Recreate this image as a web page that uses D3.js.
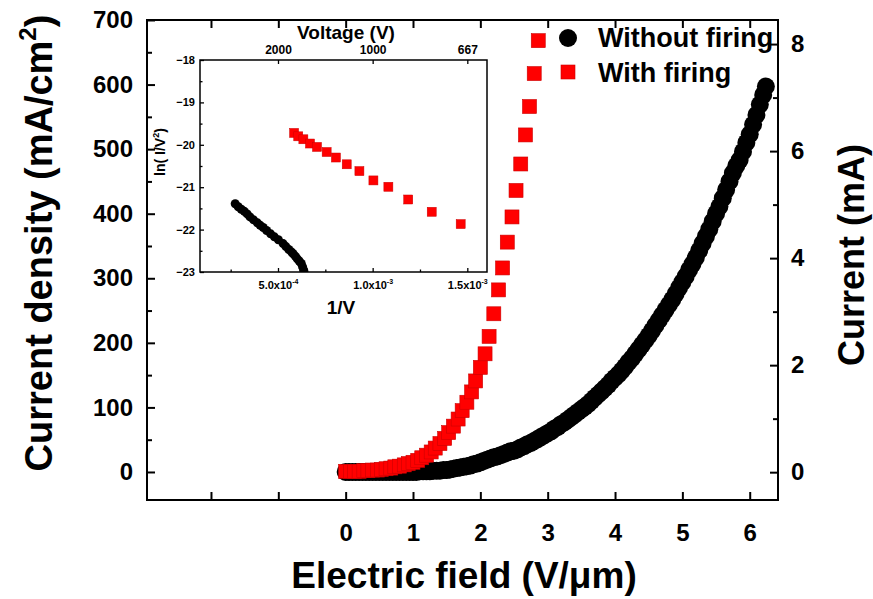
<!DOCTYPE html>
<html>
<head>
<meta charset="utf-8">
<script src="https://cdn.jsdelivr.net/npm/d3@7"></script>
<style>
body { margin: 0; background: #fff; }
text { font-family: "Liberation Sans", Arial, sans-serif; font-weight: bold; fill: #000; }
</style>
</head>
<body>
<script>
// main panel: without firing (black circles)
var blackField = [0.00,0.05,0.10,0.15,0.20,0.25,0.30,0.35,0.40,0.45,0.50,0.55,0.60,0.65,0.70,0.75,0.80,0.85,0.90,0.95,
  1.00,1.05,1.10,1.15,1.20,1.25,1.30,1.35,1.40,1.45,1.50,1.55,1.60,1.65,1.70,1.75,1.80,1.85,1.90,1.95,
  2.00,2.05,2.10,2.15,2.20,2.25,2.30,2.35,2.40,2.45,2.50,2.55,2.60,2.65,2.70,2.75,2.80,2.85,2.90,2.95,
  3.00,3.05,3.10,3.15,3.20,3.25,3.30,3.35,3.40,3.45,3.50,3.55,3.60,3.65,3.70,3.75,3.80,3.85,3.90,3.95,
  4.00,4.05,4.10,4.15,4.20,4.25,4.30,4.35,4.40,4.45,4.50,4.55,4.60,4.65,4.70,4.75,4.80,4.85,4.90,4.95,
  5.00,5.05,5.10,5.15,5.20,5.25,5.30,5.35,5.40,5.45,5.50,5.55,5.60,5.65,5.70,5.75,5.80,5.85,5.90,5.95,
  6.00,6.05,6.10,6.15,6.20,6.24];
var blackJ = [0,0,0,0,0,0,0,0,0,0,0,0,0,0,0,0,0,0,0,0,
  0,0,1,1,1,1,2,2,2,3,3,4,5,6,7,8,9,10,12,13,
  15,17,19,21,23,24,26,28,30,32,33,35,38,40,43,45,48,51,54,57,
  60,63,67,70,74,77,81,85,89,93,97,101,105,110,115,120,125,130,135,141,
  146,151,157,163,170,176,183,190,197,204,211,219,227,235,243,251,259,267,276,285,
  294,303,313,322,332,343,354,365,376,388,400,411,424,437,450,463,474,483,496,510,
  523,538,553,569,584,597];

// main panel: with firing (red squares)
var redField = [0.00,0.07,0.13,0.20,0.27,0.33,0.40,0.47,0.53,0.60,0.67,0.73,0.80,0.87,0.93,
  1.00,1.07,1.13,1.20,1.27,1.33,1.40,1.47,1.53,1.60,1.67,1.73,1.80,1.87,1.93,
  2.00,2.07,2.13,2.20,2.27,2.33,2.40,2.47,2.53,2.60,2.67,2.73,2.80,2.86];
var redJ = [1,1,1,1,2,2,3,3,4,5,6,8,9,11,13,
  15,18,22,26,31,37,44,52,61,71,82,95,108,124,141,
  162,183,210,245,282,316,356,395,436,477,522,566,617,668];

// inset: ln(I/V^2) against 1/V (x in units of 1e-4)
var insetBlackX = [2.74,2.90,3.06,3.22,3.37,3.52,3.71,3.91,4.06,4.22,4.40,4.61,4.81,5.02,5.27,5.42,5.57,5.72,5.80,5.92,6.02,6.12,6.23,6.30,6.36,6.40];
var insetBlackY = [-21.39,-21.46,-21.52,-21.57,-21.63,-21.70,-21.77,-21.84,-21.90,-21.95,-22.02,-22.10,-22.17,-22.24,-22.33,-22.40,-22.47,-22.53,-22.57,-22.63,-22.69,-22.74,-22.80,-22.88,-22.96,-23.04];
var insetRedX = [5.85,6.07,6.34,6.69,7.06,7.57,8.06,8.63,9.30,10.04,10.83,11.88,13.12,14.65];
var insetRedY = [-19.72,-19.80,-19.87,-19.97,-20.05,-20.17,-20.30,-20.46,-20.62,-20.84,-20.99,-21.29,-21.58,-21.87];

// ticks
var fieldTicks = [-2,-1,0,1,2,3,4,5,6];
var jTicks = [0,100,200,300,400,500,600,700];
var jMinor = [50,150,250,350,450,550,650];
var mATicks = [0,2,4,6,8];
var mAMinor = [1,3,5,7];
var insetYTicks = [-18,-19,-20,-21,-22,-23];
var insetYMinor = [-18.5,-19.5,-20.5,-21.5,-22.5];
var insetXTicks = [5e-4,1e-3,1.5e-3];
var insetXMinor = [2.5e-4,7.5e-4,1.25e-3];
var insetXMant = ["5.0","1.0","1.5"];
var insetXExp = ["-4","-3","-3"];
var voltageLabels = ["2000","1000","667"];

var svg = d3.select("body").append("svg")
  .attr("width", 873)
  .attr("height", 599);

svg.append("rect").attr("width", 873).attr("height", 599).attr("fill", "#fff");

// main scales
var x = d3.scaleLinear().domain([-2.95, 6.42]).range([147, 778]);
var y = d3.scaleLinear().domain([-43.4, 700]).range([500, 20]);
var yR = d3.scaleLinear().domain([-0.52, 8.45]).range([500, 20]);

var tickFont = "DejaVu Sans, Liberation Sans, Arial, sans-serif";

function styleAxis(g) {
  g.select(".domain").remove();
  g.selectAll(".tick line").attr("stroke", "#000").attr("stroke-width", 2);
  g.selectAll(".tick text").attr("font-size", 24).attr("fill", "#000")
    .attr("font-family", tickFont).attr("font-weight", "bold");
}

// bottom axis
var gB = svg.append("g").attr("transform", "translate(0,500)")
  .call(d3.axisBottom(x).tickValues(fieldTicks).tickSize(-8).tickPadding(24)
    .tickFormat(function (d) { return d < 0 ? "" : d; }));
styleAxis(gB);
var gT = svg.append("g").attr("transform", "translate(0,20)")
  .call(d3.axisTop(x).tickValues(fieldTicks).tickSize(-8).tickFormat(""));
styleAxis(gT);

// left axis
var gL = svg.append("g").attr("transform", "translate(147,0)")
  .call(d3.axisLeft(y).tickValues(jTicks).tickSize(-8).tickPadding(14));
styleAxis(gL);
var gLm = svg.append("g").attr("transform", "translate(147,0)")
  .call(d3.axisLeft(y).tickValues(jMinor).tickSize(-5).tickFormat(""));
styleAxis(gLm);

// right axis
var gR = svg.append("g").attr("transform", "translate(778,0)")
  .call(d3.axisRight(yR).tickValues(mATicks).tickSize(-8).tickPadding(13));
styleAxis(gR);
var gRm = svg.append("g").attr("transform", "translate(778,0)")
  .call(d3.axisRight(yR).tickValues(mAMinor).tickSize(-5).tickFormat(""));
styleAxis(gRm);

// main frame
svg.append("rect")
  .attr("x", 147).attr("y", 20).attr("width", 631).attr("height", 480)
  .attr("fill", "none").attr("stroke", "#000").attr("stroke-width", 2);

// data: black first, red on top
svg.append("g").selectAll("circle")
  .data(blackField).enter().append("circle")
  .attr("cx", function (d) { return x(d); })
  .attr("cy", function (d, i) { return y(blackJ[i]); })
  .attr("r", 9)
  .attr("fill", "#000");

svg.append("g").selectAll("rect")
  .data(redField).enter().append("rect")
  .attr("x", function (d) { return x(d) - 7; })
  .attr("y", function (d, i) { return y(redJ[i]) - 7; })
  .attr("width", 14).attr("height", 14)
  .attr("fill", "#f00")
  .attr("stroke", "#c00").attr("stroke-width", 0.6);

// axis titles
svg.append("text")
  .attr("x", 464).attr("y", 588)
  .attr("text-anchor", "middle").attr("font-size", 37)
  .text("Electric field (V/\u03bcm)");

var lt = svg.append("text")
  .attr("transform", "translate(52,243) rotate(-90)")
  .attr("text-anchor", "middle").attr("font-size", 38);
lt.append("tspan").text("Current density (mA/cm");
lt.append("tspan").attr("font-size", 24).attr("dy", -16).text("2");
lt.append("tspan").attr("dy", 16).text(")");

svg.append("text")
  .attr("transform", "translate(864,255) rotate(-90)")
  .attr("text-anchor", "middle").attr("font-size", 36)
  .text("Current (mA)");

// legend
svg.append("circle").attr("cx", 568).attr("cy", 38).attr("r", 9).attr("fill", "#000");
svg.append("text").attr("x", 598).attr("y", 47).attr("font-size", 27).text("Without firing");
svg.append("rect").attr("x", 561).attr("y", 65).attr("width", 14).attr("height", 14)
  .attr("fill", "#f00").attr("stroke", "#c00").attr("stroke-width", 0.6);
svg.append("text").attr("x", 598).attr("y", 82).attr("font-size", 27).text("With firing");

// inset
var ix = d3.scaleLinear().domain([0.88e-4, 1.604e-3]).range([200, 487]);
var iy = d3.scaleLinear().domain([-23, -18]).range([272, 60]);

svg.append("rect").attr("x", 200).attr("y", 60).attr("width", 287).attr("height", 212).attr("fill", "#fff");

svg.append("clipPath").attr("id", "insetClip")
  .append("rect").attr("x", 200).attr("y", 60).attr("width", 287).attr("height", 212);

var inset = svg.append("g").attr("clip-path", "url(#insetClip)");
inset.selectAll("circle")
  .data(insetBlackX).enter().append("circle")
  .attr("cx", function (d) { return ix(d * 1e-4); })
  .attr("cy", function (d, i) { return iy(insetBlackY[i]); })
  .attr("r", 4.5)
  .attr("fill", "#000");
inset.selectAll("rect")
  .data(insetRedX).enter().append("rect")
  .attr("x", function (d) { return ix(d * 1e-4) - 4.5; })
  .attr("y", function (d, i) { return iy(insetRedY[i]) - 4.5; })
  .attr("width", 9).attr("height", 9)
  .attr("fill", "#f00").attr("stroke", "#c00").attr("stroke-width", 0.5);

function styleInset(g) {
  g.select(".domain").remove();
  g.selectAll(".tick line").attr("stroke", "#000").attr("stroke-width", 1.3);
  g.selectAll(".tick text").attr("font-size", 11).attr("fill", "#000")
    .attr("font-family", "Liberation Sans, Arial, sans-serif").attr("font-weight", "bold");
}

var iL = svg.append("g").attr("transform", "translate(200,0)")
  .call(d3.axisLeft(iy).tickValues(insetYTicks).tickSize(-4).tickPadding(5).tickFormat(d3.format("d")));
styleInset(iL);
var iLm = svg.append("g").attr("transform", "translate(200,0)")
  .call(d3.axisLeft(iy).tickValues(insetYMinor).tickSize(-2.5).tickFormat(""));
styleInset(iLm);

var iB = svg.append("g").attr("transform", "translate(0,272)")
  .call(d3.axisBottom(ix).tickValues(insetXTicks).tickSize(-4).tickFormat(""));
styleInset(iB);
iB.selectAll(".tick").append("text")
  .attr("y", 17).attr("text-anchor", "middle").attr("font-size", 11)
  .each(function (d, i) {
    var t = d3.select(this);
    t.append("tspan").text(insetXMant[i] + "x10");
    t.append("tspan").attr("font-size", 7).attr("dy", -5).text(insetXExp[i]);
  });
var iBm = svg.append("g").attr("transform", "translate(0,272)")
  .call(d3.axisBottom(ix).tickValues(insetXMinor).tickSize(-2.5).tickFormat(""));
styleInset(iBm);

var iT = svg.append("g").attr("transform", "translate(0,60)")
  .call(d3.axisTop(ix).tickValues(insetXTicks).tickSize(-4).tickPadding(6)
    .tickFormat(function (d, i) { return voltageLabels[i]; }));
styleInset(iT);
iT.selectAll(".tick text").attr("font-size", 12);

svg.append("rect")
  .attr("x", 200).attr("y", 60).attr("width", 287).attr("height", 212)
  .attr("fill", "none").attr("stroke", "#000").attr("stroke-width", 1.5);

// inset titles
svg.append("text").attr("x", 346).attr("y", 39)
  .attr("text-anchor", "middle").attr("font-size", 19).text("Voltage (V)");
svg.append("text").attr("x", 341).attr("y", 314)
  .attr("text-anchor", "middle").attr("font-size", 19).text("1/V");
var it = svg.append("text")
  .attr("transform", "translate(165,152) rotate(-90)")
  .attr("text-anchor", "middle").attr("font-size", 14);
it.append("tspan").text("ln( I/V");
it.append("tspan").attr("font-size", 9).attr("dy", -6).text("2");
it.append("tspan").attr("dy", 6).text(")");
</script>
</body>
</html>
